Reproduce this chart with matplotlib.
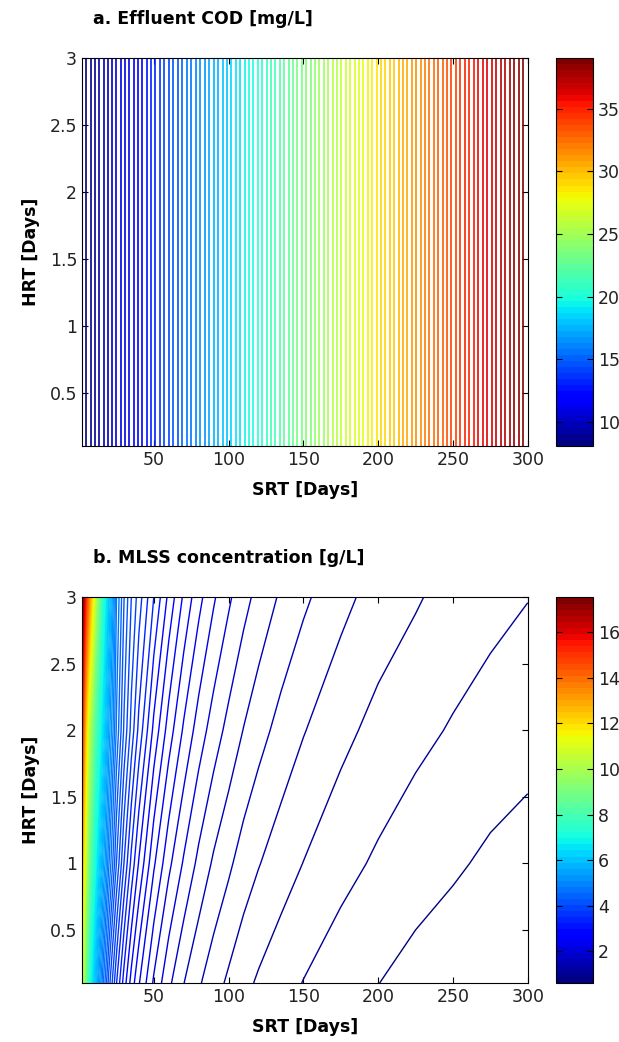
"""Contour maps of effluent COD and MLSS against SRT and HRT."""

import matplotlib

matplotlib.use("Agg")
import matplotlib.pyplot as plt
import numpy as np
from matplotlib.colors import Normalize
from matplotlib.cm import ScalarMappable

plt.rcParams["font.family"] = ["DejaVu Sans"]

# panel a: effluent COD [mg/L] only depends on SRT
cod_srt = [2, 50, 100, 150, 200, 250, 300]
cod_values = [8.1, 13.2, 18.3, 23.5, 28.7, 33.9, 39.0]
cod_hrt = [0.1, 3.0]

# panel b: MLSS [g/L], rows = HRT, columns = SRT
mlss_srt = [2, 4, 6, 8, 10, 13, 16, 20, 25, 30, 35, 40, 50, 60, 70, 80, 90,
            100, 110, 120, 135, 150, 175, 200, 225, 250, 275, 300]
mlss_hrt = [0.1, 1.0, 2.0, 3.0]
mlss_h01 = [10.81, 9.05, 7.80, 6.85, 6.12, 5.28, 4.66, 4.03, 3.46, 3.04, 2.71,
            2.46, 2.08, 1.81, 1.61, 1.46, 1.34, 1.24, 1.15, 1.08, 1.00, 0.93,
            0.84, 0.77, 0.71, 0.67, 0.63, 0.60]
mlss_h1 = [12.90, 10.80, 9.30, 8.18, 7.30, 6.30, 5.55, 4.80, 4.12, 3.62, 3.23,
           2.93, 2.47, 2.15, 1.92, 1.73, 1.58, 1.47, 1.36, 1.28, 1.18, 1.10,
           0.99, 0.91, 0.84, 0.79, 0.74, 0.71]
mlss_h2 = [15.21, 12.73, 10.96, 9.63, 8.60, 7.42, 6.40, 5.40, 4.60, 4.10, 3.72,
           3.40, 2.90, 2.53, 2.25, 2.03, 1.86, 1.72, 1.60, 1.50, 1.38, 1.28,
           1.15, 1.05, 0.98, 0.92, 0.86, 0.82]
mlss_h3 = [17.53, 15.60, 14.00, 12.50, 11.00, 9.00, 7.40, 6.00, 4.80, 4.30, 3.95,
           3.70, 3.28, 2.90, 2.58, 2.33, 2.13, 1.97, 1.83, 1.72, 1.58, 1.47,
           1.32, 1.20, 1.12, 1.04, 0.99, 0.94]

x_ticks = [50, 100, 150, 200, 250, 300]
y_ticks = [0.5, 1, 1.5, 2, 2.5, 3]
y_ticklabels = ["0.5", "1", "1.5", "2", "2.5", "3"]
cod_cbar_ticks = [10, 15, 20, 25, 30, 35]
mlss_cbar_ticks = [2, 4, 6, 8, 10, 12, 14, 16]

N_LEVELS = 100
cmap = plt.get_cmap("jet", 64)


def contour_panel(fig, rect, cbar_rect, srt, hrt, z, title, cbar_ticks, lw):
    ax = fig.add_axes(rect)
    zmin, zmax = z.min(), z.max()
    norm = Normalize(zmin, zmax)
    levels = np.linspace(zmin, zmax, N_LEVELS + 2)[1:-1]
    ax.contour(srt, hrt, z, levels=levels, cmap=cmap, norm=norm, linewidths=lw)
    ax.set_xlim(2, 300)
    ax.set_ylim(0.1, 3)
    ax.set_xticks(x_ticks)
    ax.set_yticks(y_ticks)
    ax.set_yticklabels(y_ticklabels)
    ax.tick_params(direction="in", top=True, right=True, labelsize=12.5,
                   length=4, colors="black", labelcolor="#222222")
    ax.set_xlabel("SRT [Days]", fontsize=12.5, fontweight="bold", labelpad=9)
    ax.set_ylabel("HRT [Days]", fontsize=12.5, fontweight="bold", labelpad=7)
    ax.set_title(title, fontsize=12.5, fontweight="bold", loc="left", x=0.025,
                 pad=25)

    cax = fig.add_axes(cbar_rect)
    cb = fig.colorbar(ScalarMappable(norm=norm, cmap=cmap), cax=cax)
    cb.set_ticks(cbar_ticks)
    cax.tick_params(direction="in", left=True, right=True, labelsize=12.5,
                    length=4, labelcolor="#222222")
    cb.outline.set_linewidth(0.8)
    for s in ax.spines.values():
        s.set_linewidth(0.8)
    return ax


fig = plt.figure(figsize=(6.19, 10.42), dpi=100)

cod_grid = np.tile(np.array(cod_values), (len(cod_hrt), 1))
contour_panel(fig, [0.1325, 0.572, 0.72, 0.372], [0.898, 0.572, 0.060, 0.372],
              cod_srt, cod_hrt, cod_grid, "a. Effluent COD [mg/L]",
              cod_cbar_ticks, 1.2)

mlss_grid = np.array([mlss_h01, mlss_h1, mlss_h2, mlss_h3])
contour_panel(fig, [0.1325, 0.0566, 0.72, 0.370], [0.898, 0.0566, 0.060, 0.370],
              mlss_srt, mlss_hrt, mlss_grid, "b. MLSS concentration [g/L]",
              mlss_cbar_ticks, 1.0)

fig.savefig("out.png", dpi=100)
